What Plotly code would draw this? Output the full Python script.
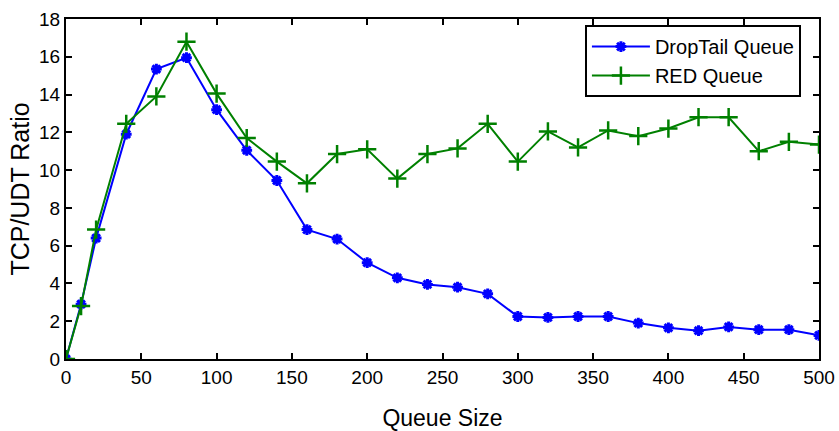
import plotly.graph_objects as go

queue_size = [0, 10, 20, 40, 60, 80, 100, 120, 140, 160, 180, 200, 220, 240, 260,
              280, 300, 320, 340, 360, 380, 400, 420, 440, 460, 480, 500]
droptail = [0, 2.9, 6.4, 11.9, 15.35, 15.95, 13.2, 11.05, 9.45, 6.85, 6.35, 5.1, 4.3,
            3.95, 3.8, 3.45, 2.25, 2.2, 2.25, 2.25, 1.9, 1.65, 1.5, 1.7, 1.55, 1.55, 1.25]
red = [0, 2.8, 6.85, 12.45, 13.9, 16.8, 14.05, 11.7, 10.45, 9.3, 10.85, 11.1, 9.55,
       10.85, 11.15, 12.45, 10.45, 12.05, 11.2, 12.1, 11.8, 12.2, 12.8, 12.8, 11.0, 11.5, 11.35]
x_ticks = [0, 50, 100, 150, 200, 250, 300, 350, 400, 450, 500]
y_ticks = [0, 2, 4, 6, 8, 10, 12, 14, 16, 18]

FONT = "Liberation Sans, Arial, sans-serif"

fig = go.Figure()
fig.add_trace(go.Scatter(
    x=queue_size, y=droptail, name="DropTail Queue", mode="lines+markers",
    line=dict(color="#0000FF", width=2),
    marker=dict(symbol="asterisk-open", size=9, color="#0000FF",
                line=dict(color="#0000FF", width=3)),
))
fig.add_trace(go.Scatter(
    x=queue_size, y=red, name="RED Queue", mode="lines+markers",
    line=dict(color="#008000", width=2),
    marker=dict(symbol="cross-thin-open", size=13, color="#008000",
                line=dict(color="#008000", width=2.5)),
))

axis_common = dict(
    showline=True, linecolor="black", linewidth=2, mirror="ticks",
    ticks="inside", ticklen=6, tickwidth=2, tickcolor="black",
    showgrid=False, zeroline=False, automargin=False,
    tickfont=dict(family=FONT, size=19, color="black"),
)

fig.update_layout(
    width=839, height=431,
    margin=dict(l=66, r=20, t=19, b=72, autoexpand=False),
    paper_bgcolor="white", plot_bgcolor="white",
    font=dict(family=FONT, color="black"),
    xaxis=dict(range=[0, 500], tickvals=x_ticks,
               title=dict(text="Queue Size", font=dict(family=FONT, size=23), standoff=25),
               **axis_common),
    yaxis=dict(range=[0, 18], tickvals=y_ticks,
               title=dict(text="TCP/UDT Ratio", font=dict(family=FONT, size=25), standoff=2),
               **axis_common),
    legend=dict(x=0.976, y=0.982, xanchor="right", yanchor="top",
                bgcolor="white", bordercolor="black", borderwidth=2,
                font=dict(family=FONT, size=20, color="black"),
                itemwidth=58, tracegroupgap=0),
    showlegend=True,
)

fig.write_html("out.html")
